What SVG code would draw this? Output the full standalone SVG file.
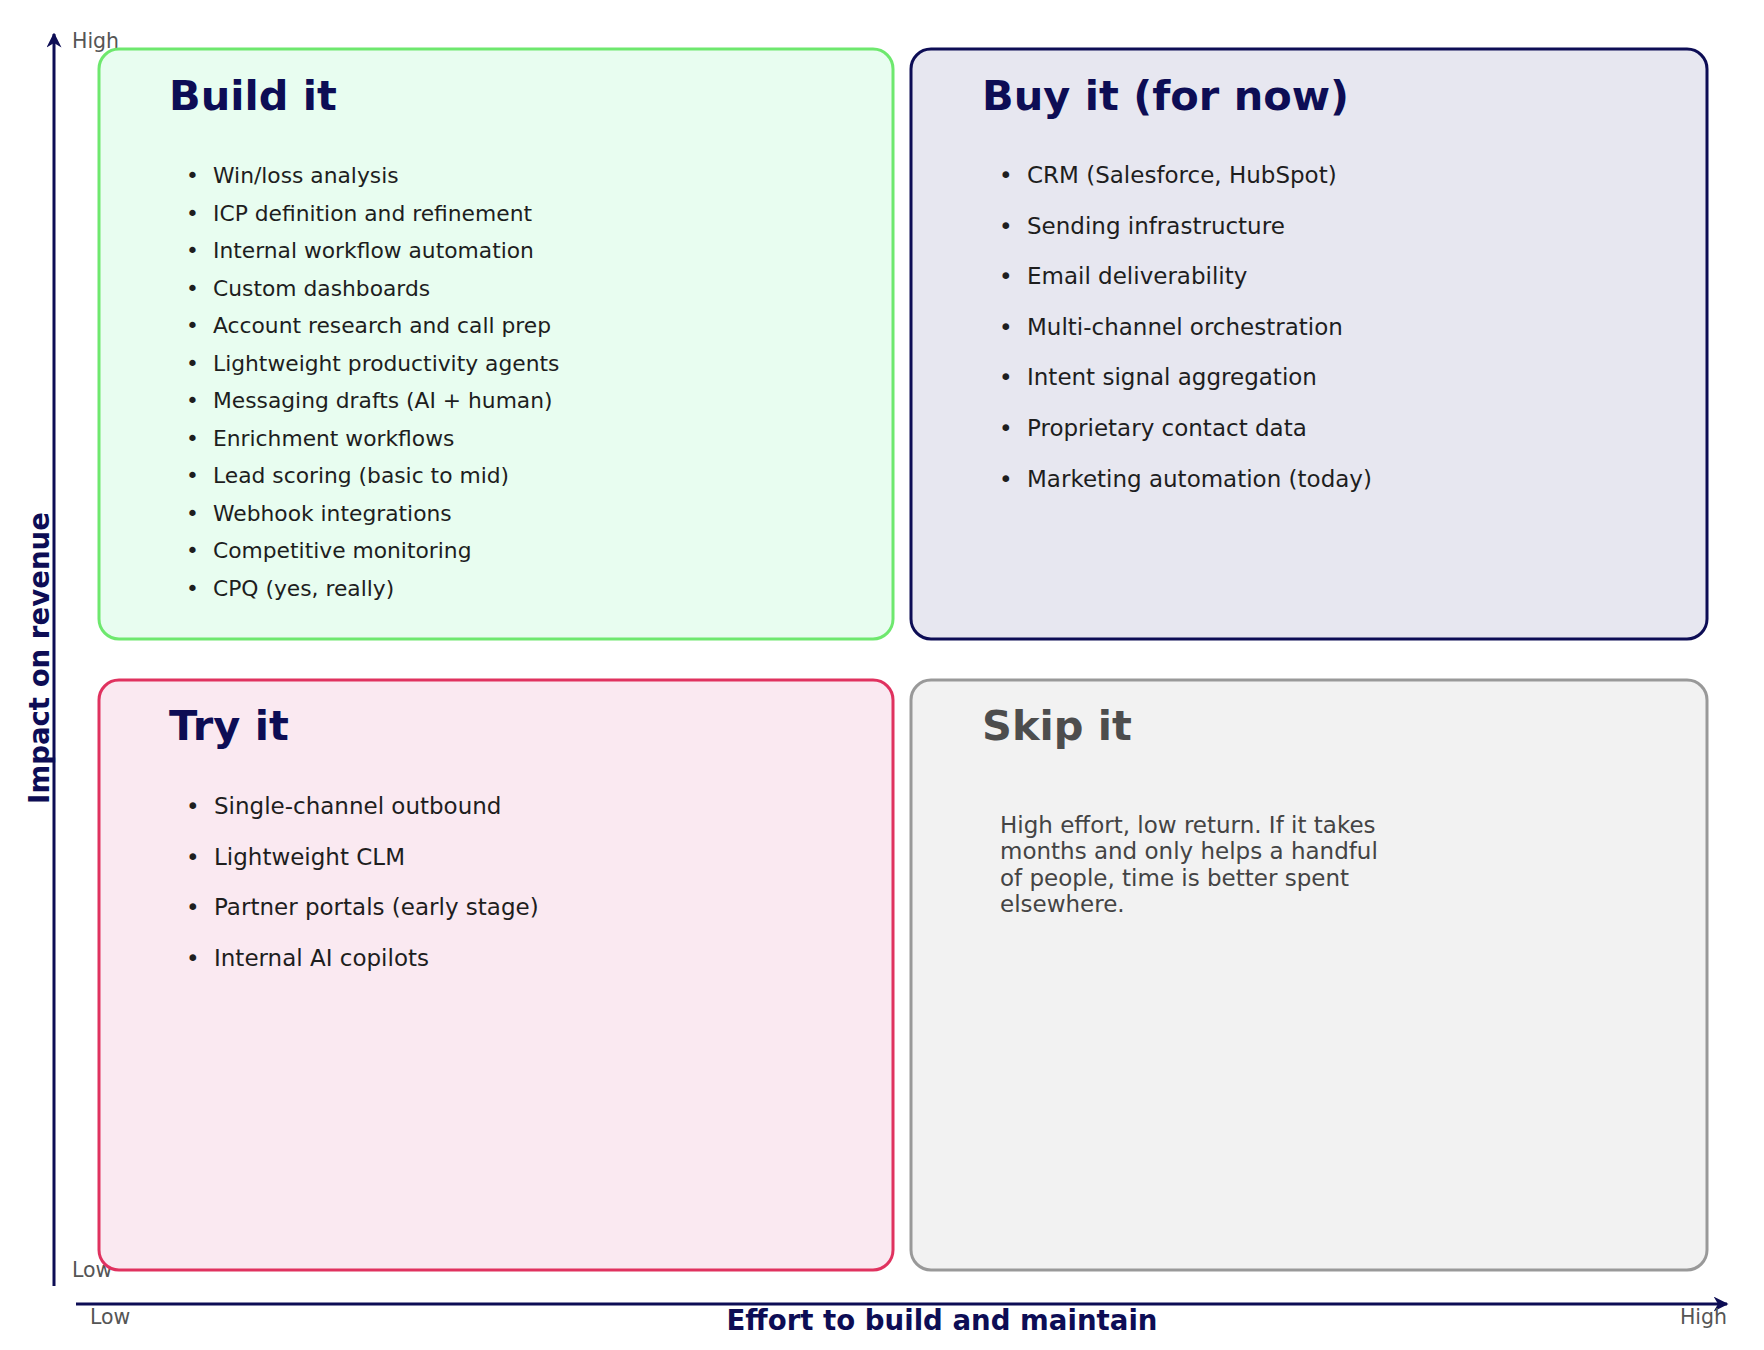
<svg xmlns="http://www.w3.org/2000/svg" width="1764" height="1350" viewBox="0 0 1764 1350">
<style>
text{font-family:"DejaVu Sans","Noto Sans",sans-serif}
.t{font-size:41.5px;font-weight:bold;fill:#0d0d55}
.li{font-size:21.8px;fill:#1e1e1e}
.lb{font-size:23px;fill:#1e1e1e}
.ax{font-size:20.5px;fill:#555}
.at{font-size:27.6px;font-weight:bold;fill:#0d0d55}
.box{stroke-width:3}
</style>
<defs>
<marker id="ah" viewBox="0 0 10 10" refX="9" refY="5" markerWidth="5" markerHeight="5" orient="auto"><path d="M0,0 L10,5 L0,10 L3,5 z" fill="#0d0d55"/></marker>
</defs>
<g id="connectors">
<line x1="54" y1="1286" x2="54" y2="34" stroke="#0d0d55" stroke-width="3" marker-end="url(#ah)"/>
<line x1="76" y1="1304" x2="1727" y2="1304" stroke="#0d0d55" stroke-width="3" marker-end="url(#ah)"/>
</g>
<g id="axes">
<text class="ax" x="72" y="48">High</text>
<text class="ax" x="72" y="1277">Low</text>
<text class="ax" x="90" y="1324">Low</text>
<text class="ax" x="1727" y="1324" text-anchor="end">High</text>
<text class="at" x="942" y="1330" text-anchor="middle">Effort to build and maintain</text>
<text class="at" transform="translate(49,658) rotate(-90)" text-anchor="middle">Impact on revenue</text>
</g>
<g id="build">
<rect class="box" x="99" y="49" width="794" height="590" rx="20" fill="#e8fdf0" stroke="#6ee86e"/>
<text class="t" x="169" y="110">Build it</text>
<g class="li">
<text x="186" y="183">•</text><text x="213" y="183">Win/loss analysis</text>
<text x="186" y="220.5">•</text><text x="213" y="220.5">ICP definition and refinement</text>
<text x="186" y="258">•</text><text x="213" y="258">Internal workflow automation</text>
<text x="186" y="295.5">•</text><text x="213" y="295.5">Custom dashboards</text>
<text x="186" y="333">•</text><text x="213" y="333">Account research and call prep</text>
<text x="186" y="370.5">•</text><text x="213" y="370.5">Lightweight productivity agents</text>
<text x="186" y="408">•</text><text x="213" y="408">Messaging drafts (AI + human)</text>
<text x="186" y="445.5">•</text><text x="213" y="445.5">Enrichment workflows</text>
<text x="186" y="483">•</text><text x="213" y="483">Lead scoring (basic to mid)</text>
<text x="186" y="520.5">•</text><text x="213" y="520.5">Webhook integrations</text>
<text x="186" y="558">•</text><text x="213" y="558">Competitive monitoring</text>
<text x="186" y="595.5">•</text><text x="213" y="595.5">CPQ (yes, really)</text>
</g>
</g>
<g id="buy">
<rect class="box" x="911" y="49" width="796" height="590" rx="20" fill="#e7e7f0" stroke="#0d0d55"/>
<text class="t" x="982" y="110">Buy it (for now)</text>
<g class="lb">
<text x="999" y="183">•</text><text x="1027" y="183">CRM (Salesforce, HubSpot)</text>
<text x="999" y="233.6">•</text><text x="1027" y="233.6">Sending infrastructure</text>
<text x="999" y="284.2">•</text><text x="1027" y="284.2">Email deliverability</text>
<text x="999" y="334.8">•</text><text x="1027" y="334.8">Multi-channel orchestration</text>
<text x="999" y="385.4">•</text><text x="1027" y="385.4">Intent signal aggregation</text>
<text x="999" y="436">•</text><text x="1027" y="436">Proprietary contact data</text>
<text x="999" y="486.6">•</text><text x="1027" y="486.6">Marketing automation (today)</text>
</g>
</g>
<g id="try">
<rect class="box" x="99" y="680" width="794" height="590" rx="20" fill="#fae9f1" stroke="#e0325f"/>
<text class="t" x="169" y="740">Try it</text>
<g class="lb">
<text x="186" y="814">•</text><text x="214" y="814">Single-channel outbound</text>
<text x="186" y="864.6">•</text><text x="214" y="864.6">Lightweight CLM</text>
<text x="186" y="915.2">•</text><text x="214" y="915.2">Partner portals (early stage)</text>
<text x="186" y="965.8">•</text><text x="214" y="965.8">Internal AI copilots</text>
</g>
</g>
<g id="skip">
<rect class="box" x="911" y="680" width="796" height="590" rx="20" fill="#f2f2f2" stroke="#999"/>
<text class="t" x="982" y="740" style="fill:#4d4d4d">Skip it</text>
<g class="lb" style="fill:#444">
<text x="1000" y="833">High effort, low return. If it takes</text>
<text x="1000" y="859.4">months and only helps a handful</text>
<text x="1000" y="885.8">of people, time is better spent</text>
<text x="1000" y="912.2">elsewhere.</text>
</g>
</g>
</svg>
